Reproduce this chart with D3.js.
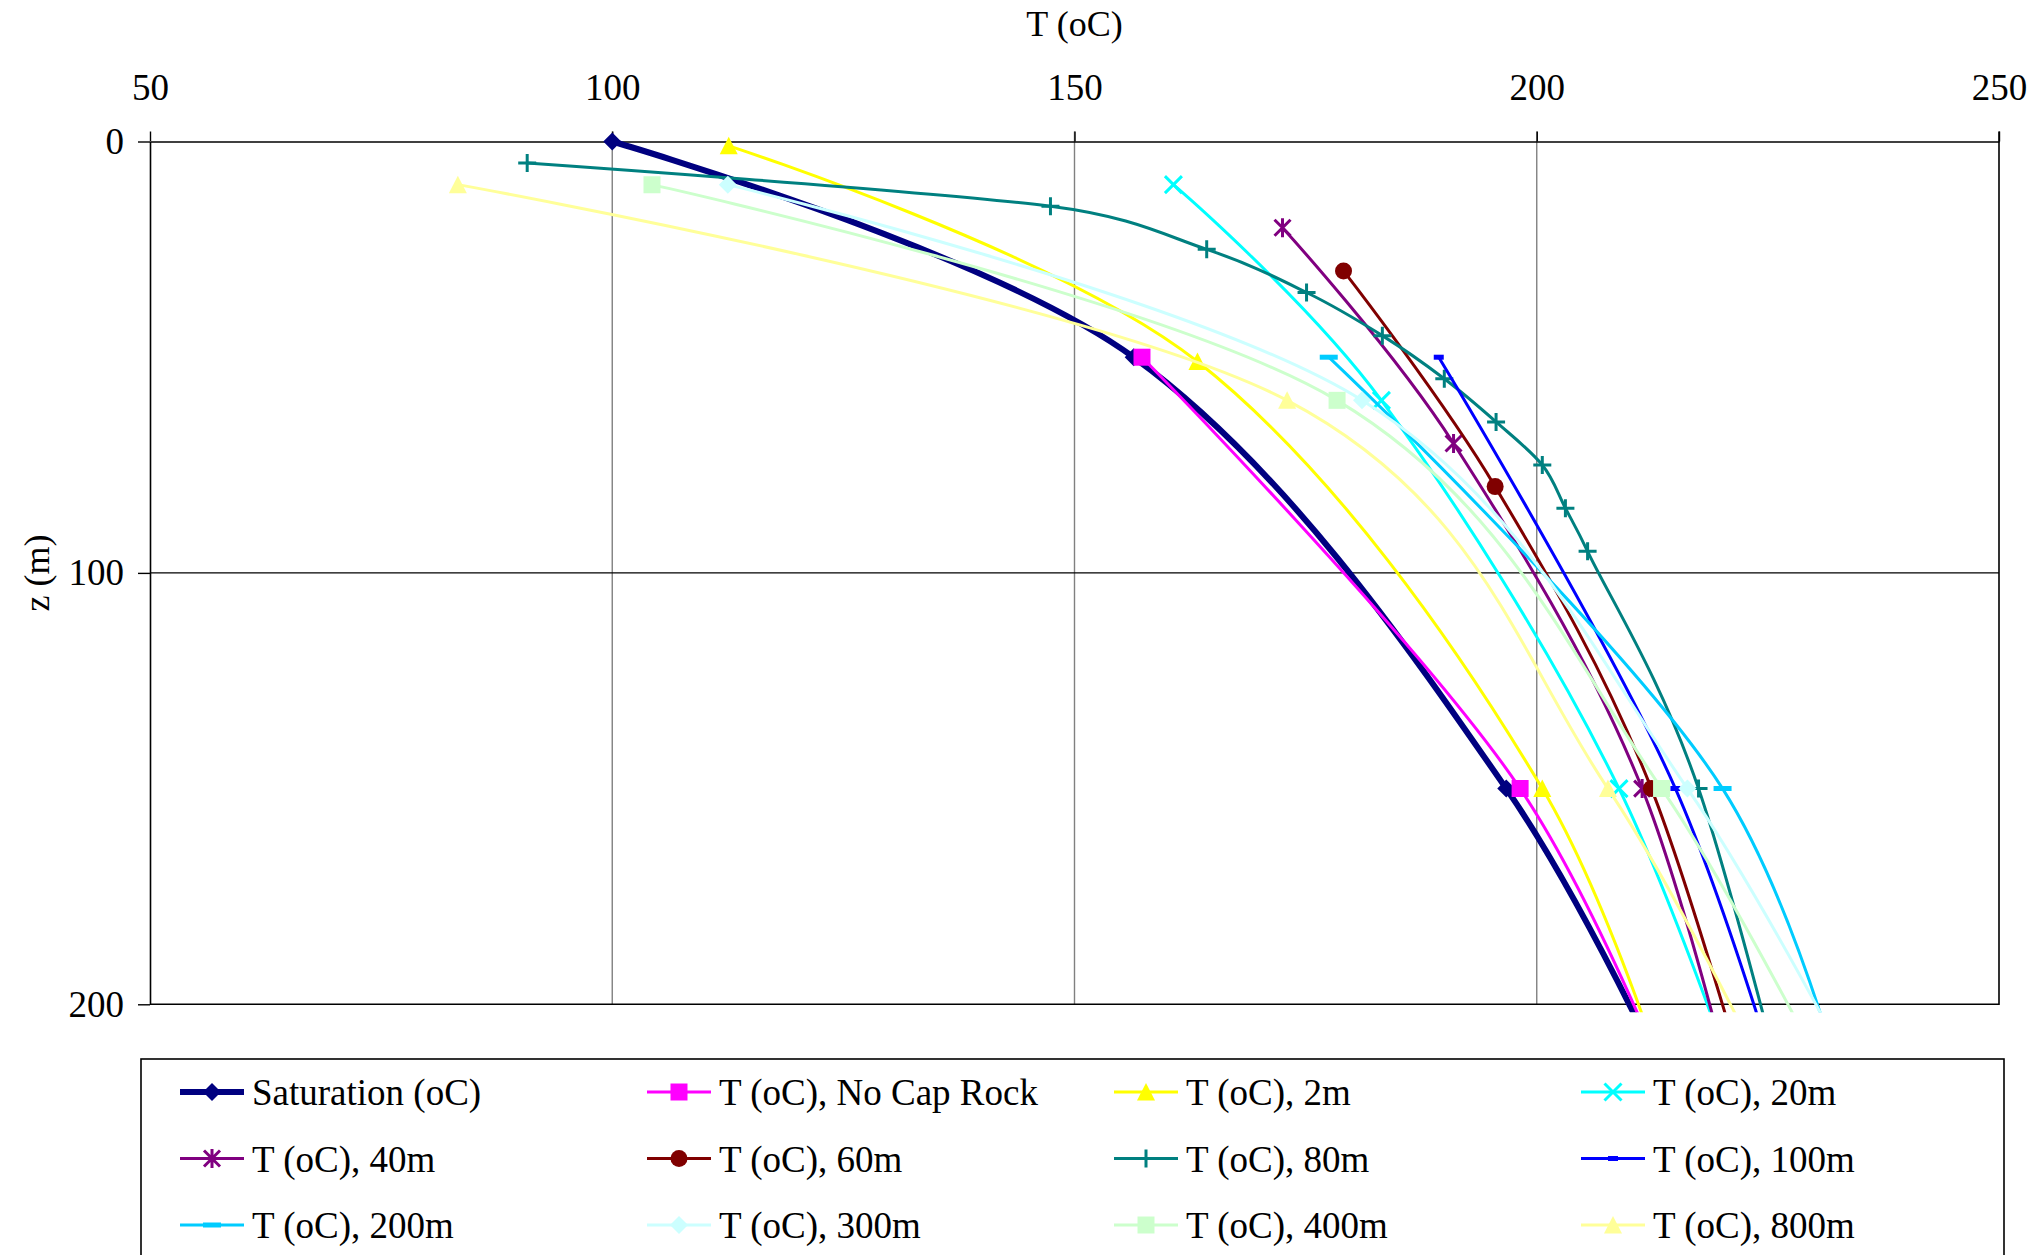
<!DOCTYPE html>
<html>
<head>
<meta charset="utf-8">
<script src="https://cdn.jsdelivr.net/npm/d3@7"></script>
<style>
  body { margin: 0; background: #ffffff; }
  svg { display: block; font-family: "Liberation Serif", "Times New Roman", serif; }
</style>
</head>
<body>
<svg id="chart" width="2040" height="1255"></svg>
<script>
// Temperature profiles under cap rocks of different thickness (T in oC vs depth z in m)
const tempTicks = [50, 100, 150, 200, 250];
const depthTicks = [0, 100, 200];
const tempGrid = [100, 150, 200];
const depthGrid = [100];

const satDepth = [0, 50, 150, 250];
const satTemp = [100, 156.4, 196.7, 221.0];
const noCapDepth = [50, 150, 250];
const noCapTemp = [157.3, 198.2, 220.0];
const cap2Depth = [1, 51, 150, 250];
const cap2Temp = [112.6, 163.3, 200.6, 218.6];
const cap20Depth = [10, 60, 150, 250];
const cap20Temp = [160.7, 183.2, 208.9, 226.6];
const cap40Depth = [20, 70, 150, 250];
const cap40Temp = [172.5, 191.0, 211.4, 224.6];
const cap60Depth = [30, 80, 150, 250];
const cap60Temp = [179.1, 195.5, 212.4, 226.8];
const cap80Depth = [5, 15, 25, 35, 45, 55, 65, 75, 85, 95, 150, 250];
const cap80Temp = [90.8, 147.4, 164.3, 175.1, 183.3, 190.0, 195.6, 200.6, 203.1, 205.5, 217.5, 230.2];
const cap100Depth = [50, 150, 250];
const cap100Temp = [189.4, 215.0, 230.5];
const cap200Depth = [50, 150, 250];
const cap200Temp = [177.5, 220.1, 236.9];
const cap300Depth = [10, 60, 150, 250];
const cap300Temp = [112.5, 181.1, 216.3, 242.4];
const cap400Depth = [10, 60, 150, 250];
const cap400Temp = [104.3, 178.4, 213.5, 239.1];
const cap800Depth = [10, 60, 150, 250];
const cap800Temp = [83.3, 173.0, 207.7, 232.4];

const seriesNames = [
  "Saturation (oC)", "T (oC), No Cap Rock", "T (oC), 2m", "T (oC), 20m",
  "T (oC), 40m", "T (oC), 60m", "T (oC), 80m", "T (oC), 100m",
  "T (oC), 200m", "T (oC), 300m", "T (oC), 400m", "T (oC), 800m"
];
const seriesColors = [
  "#000080", "#FF00FF", "#FFFF00", "#00FFFF",
  "#800080", "#800000", "#008080", "#0000FF",
  "#00CCFF", "#CCFFFF", "#CCFFCC", "#FFFF99"
];
const seriesMarkers = [
  "diamond", "square", "triangle", "x",
  "asterisk", "circle", "plus", "dashSmall",
  "dashLong", "diamond", "square", "triangle"
];
const seriesDepths = [satDepth, noCapDepth, cap2Depth, cap20Depth, cap40Depth, cap60Depth,
  cap80Depth, cap100Depth, cap200Depth, cap300Depth, cap400Depth, cap800Depth];
const seriesTemps = [satTemp, noCapTemp, cap2Temp, cap20Temp, cap40Temp, cap60Temp,
  cap80Temp, cap100Temp, cap200Temp, cap300Temp, cap400Temp, cap800Temp];

const series = seriesNames.map((name, i) => ({
  name,
  color: seriesColors[i],
  marker: seriesMarkers[i],
  width: i === 0 ? 6 : 3,
  points: seriesDepths[i].map((z, j) => ({ z, t: seriesTemps[i][j] }))
}));

// Smoothed line: Catmull-Rom style Bezier segments whose control handles
// are limited to half the length of the segment they belong to.
function smoothLimited(context) {
  let pts = [];
  return {
    areaStart() {}, areaEnd() {},
    lineStart() { pts = []; },
    point(px, py) { pts.push([+px, +py]); },
    lineEnd() {
      const n = pts.length;
      if (!n) return;
      context.moveTo(pts[0][0], pts[0][1]);
      if (n === 2) { context.lineTo(pts[1][0], pts[1][1]); return; }
      for (let i = 0; i < n - 1; i++) {
        const p0 = pts[i - 1], p1 = pts[i], p2 = pts[i + 1], p3 = pts[i + 2];
        const half = Math.hypot(p2[0] - p1[0], p2[1] - p1[1]) / 2;
        let a = p0 ? [(p2[0] - p0[0]) / 6, (p2[1] - p0[1]) / 6] : [0, 0];
        let b = p3 ? [(p3[0] - p1[0]) / 6, (p3[1] - p1[1]) / 6] : [0, 0];
        const la = Math.hypot(a[0], a[1]), lb = Math.hypot(b[0], b[1]);
        if (la > half) a = a.map(v => v * half / la);
        if (lb > half) b = b.map(v => v * half / lb);
        context.bezierCurveTo(p1[0] + a[0], p1[1] + a[1], p2[0] - b[0], p2[1] - b[1], p2[0], p2[1]);
      }
    }
  };
}

const svg = d3.select("#chart");
const plot = { left: 150, right: 1999, top: 141.5, bottom: 1004.3 };

const x = d3.scaleLinear().domain([50, 250]).range([plot.left, plot.right]);
const y = d3.scaleLinear().domain([0, 200]).range([plot.top, plot.bottom]);

// gridlines
svg.append("g").selectAll("line").data(tempGrid).join("line")
  .attr("x1", d => x(d)).attr("x2", d => x(d))
  .attr("y1", plot.top - 10).attr("y2", plot.bottom)
  .attr("stroke", "#808080").attr("stroke-width", 1.4);
svg.append("g").selectAll("line").data(depthGrid).join("line")
  .attr("x1", plot.left).attr("x2", plot.right)
  .attr("y1", d => y(d)).attr("y2", d => y(d))
  .attr("stroke", "#000").attr("stroke-width", 1.2);

// right and bottom edges of the plot area
svg.append("path")
  .attr("d", `M${plot.right},${plot.top - 10}V${plot.bottom}H${plot.left}`)
  .attr("fill", "none").attr("stroke", "#000").attr("stroke-width", 1.6);

// axes
const xAxis = svg.append("g").attr("transform", `translate(0,${plot.top})`)
  .call(d3.axisTop(x).tickValues(tempTicks).tickSize(10).tickPadding(32).tickSizeOuter(0));
const yAxis = svg.append("g").attr("transform", `translate(${plot.left},0)`)
  .call(d3.axisLeft(y).tickValues(depthTicks).tickSize(12).tickPadding(14).tickSizeOuter(0));
[xAxis, yAxis].forEach(g => {
  g.select(".domain").attr("stroke", "#000").attr("stroke-width", 1.6);
  g.selectAll(".tick line").attr("stroke", "#000").attr("stroke-width", 1.4);
  g.selectAll(".tick text").attr("font-size", 37).attr("fill", "#000")
    .attr("font-family", "Liberation Serif, Times New Roman, serif");
});

svg.append("text").attr("x", (plot.left + plot.right) / 2).attr("y", 36)
  .attr("text-anchor", "middle").attr("font-size", 36).text("T (oC)");
svg.append("text")
  .attr("transform", `translate(37,${(plot.top + plot.bottom) / 2}) rotate(-90)`)
  .attr("text-anchor", "middle").attr("dominant-baseline", "central")
  .attr("font-size", 36).text("z (m)");

// marker shapes
function markerPath(type) {
  switch (type) {
    case "diamond": return "M0,-9L9,0L0,9L-9,0Z";
    case "square": return "M-8.5,-8.5H8.5V8.5H-8.5Z";
    case "triangle": return "M0,-9L9,8.5H-9Z";
    case "circle": return "M-8.5,0A8.5,8.5 0 1,0 8.5,0A8.5,8.5 0 1,0 -8.5,0Z";
    case "x": return "M-8.5,-8.5L8.5,8.5M-8.5,8.5L8.5,-8.5";
    case "asterisk": return "M-8,-8L8,8M-8,8L8,-8M0,-9.5V9.5";
    case "plus": return "M-9,0H9M0,-9V9";
    case "dashSmall": return "M-5,-2.5H5V2.5H-5Z";
    case "dashLong": return "M-9,-2.5H9V2.5H-9Z";
  }
}
const stroked = new Set(["x", "asterisk", "plus"]);
function drawMarker(sel, s) {
  sel.append("path").attr("d", markerPath(s.marker))
    .attr("fill", stroked.has(s.marker) ? "none" : s.color)
    .attr("stroke", stroked.has(s.marker) ? s.color : "none")
    .attr("stroke-width", 3);
}

svg.append("clipPath").attr("id", "plotClip").append("rect")
  .attr("x", plot.left).attr("y", plot.top - 20)
  .attr("width", plot.right - plot.left).attr("height", plot.bottom + 8 - (plot.top - 20));

const line = d3.line().x(d => x(d.t)).y(d => y(d.z)).curve(smoothLimited);

const plotG = svg.append("g").attr("clip-path", "url(#plotClip)");
series.forEach(s => {
  const g = plotG.append("g");
  g.append("path").datum(s.points).attr("d", line)
    .attr("fill", "none").attr("stroke", s.color).attr("stroke-width", s.width)
    .attr("stroke-linejoin", "round");
  g.selectAll("g.m").data(s.points).join("g").attr("class", "m")
    .attr("transform", d => `translate(${x(d.t)},${y(d.z)})`)
    .each(function () { drawMarker(d3.select(this), s); });
});

// legend
const legendCols = [180, 647, 1114, 1581];
const legendRows = [1092, 1158.5, 1225];
svg.append("rect").attr("x", 141).attr("y", 1059).attr("width", 2004 - 141).attr("height", 260)
  .attr("fill", "#fff").attr("stroke", "#000").attr("stroke-width", 1.6);
series.forEach((s, i) => {
  const lx = legendCols[i % 4], ly = legendRows[Math.floor(i / 4)];
  const g = svg.append("g");
  g.append("line").attr("x1", lx).attr("x2", lx + 64).attr("y1", ly).attr("y2", ly)
    .attr("stroke", s.color).attr("stroke-width", s.width);
  const m = g.append("g").attr("transform", `translate(${lx + 32},${ly})`);
  drawMarker(m, s);
  g.append("text").attr("x", lx + 72).attr("y", ly + 13)
    .attr("font-size", 37).attr("fill", "#000").text(s.name);
});
</script>
</body>
</html>
